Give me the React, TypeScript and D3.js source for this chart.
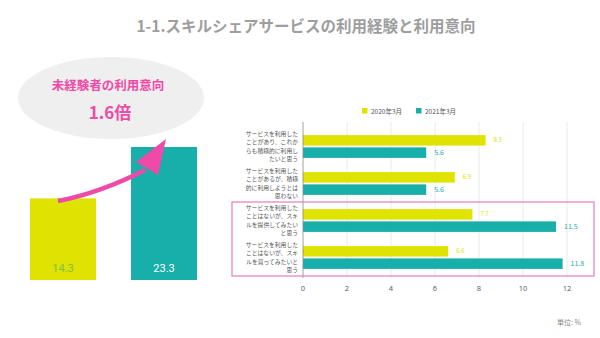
import React from "react";
import * as d3 from "d3";

const categories = [
  ["サービスを利用した", "ことがあり、これか", "らも積極的に利用し", "たいと思う"],
  ["サービスを利用した", "ことがあるが、積極", "的に利用しようとは", "思わない"],
  ["サービスを利用した", "ことはないが、スキ", "ルを提供してみたい", "と思う"],
  ["サービスを利用した", "ことはないが、スキ", "ルを買ってみたいと", "思う"],
];
const values2020 = [8.3, 6.9, 7.7, 6.6];
const values2021 = [5.6, 5.6, 11.5, 11.8];
const seriesNames = ["2020年3月", "2021年3月"];
const xTicks = [0, 2, 4, 6, 8, 10, 12];
const summaryLabels = ["2020", "2021"];
const summaryValues = [14.3, 23.3];

const YELLOW = "#e0e300";
const TEAL = "#18aeaa";
const PINK = "#ee4aa8";
const FONT = "'Noto Sans CJK JP', 'Noto Sans', sans-serif";

export default function App() {
  const x = d3.scaleLinear().domain([0, 12]).range([303, 567]);
  const y = d3
    .scaleBand<number>()
    .domain(d3.range(categories.length))
    .range([128, 276])
    .paddingInner(0)
    .paddingOuter(0);
  const barH = 10.5;
  const gap = 1.8;

  const lx = d3
    .scaleBand<string>()
    .domain(summaryLabels)
    .range([30, 197])
    .paddingInner(0.347)
    .paddingOuter(0);
  const ly = d3.scaleLinear().domain([0, 23.3]).range([280, 147]);

  const arrowPath = d3.path();
  arrowPath.moveTo(58, 201);
  arrowPath.quadraticCurveTo(100, 193, 145, 170);

  const lineStep = 8.5;
  const labelSize = 5.8;

  return (
    <svg
      width={600}
      height={338}
      style={{ position: "absolute", left: 0, top: 0, background: "#fff" }}
      fontFamily={FONT}
    >
      <rect x={0} y={0} width={600} height={338} fill="#ffffff" />
      <text x={306} y={32} textAnchor="middle" fontSize={15.5} fontWeight="bold" fill="#9e9e9e">
        1-1.スキルシェアサービスの利用経験と利用意向
      </text>

      <ellipse cx={111} cy={98} rx={93} ry={41} fill="#efefef" />
      <text x={108} y={90} textAnchor="middle" fontSize={12.5} fontWeight="bold" fill={PINK}>
        未経験者の利用意向
      </text>
      <text x={110} y={119} textAnchor="middle" fontSize={17} fontWeight="bold" fill={PINK}>
        1.6倍
      </text>

      {summaryLabels.map((k, i) => (
        <g key={k}>
          <rect
            x={lx(k)!}
            y={ly(summaryValues[i])}
            width={lx.bandwidth()}
            height={ly(0) - ly(summaryValues[i])}
            fill={i === 0 ? YELLOW : TEAL}
          />
          <text
            x={lx(k)! + lx.bandwidth() / 2}
            y={272}
            textAnchor="middle"
            fontSize={11}
            fontFamily="Roboto, sans-serif"
            fill={i === 0 ? "#7dbf4a" : "#ffffff"}
          >
            {summaryValues[i]}
          </text>
        </g>
      ))}

      <path d={arrowPath.toString()} fill="none" stroke={PINK} strokeWidth={4.5} />
      <polygon points="166,139 136,162 158,175" fill={PINK} />

      <rect x={362} y={108} width={5.5} height={5.5} fill={YELLOW} />
      <text x={371} y={113.5} fontSize={6.5} fill="#555">
        {seriesNames[0]}
      </text>
      <rect x={416} y={108} width={5.5} height={5.5} fill={TEAL} />
      <text x={425} y={113.5} fontSize={6.5} fill="#555">
        {seriesNames[1]}
      </text>

      {xTicks.map((t) => (
        <g key={t}>
          {t !== 0 && (
            <line x1={x(t)} x2={x(t)} y1={122} y2={278} stroke="#e4e4e4" strokeWidth={0.8} />
          )}
          <text x={x(t)} y={291} textAnchor="middle" fontSize={7.5} fill="#555" fontFamily="'Open Sans', sans-serif">
            {t}
          </text>
        </g>
      ))}

      {categories.map((lines, i) => {
        const c = y(i)! + y.bandwidth() / 2;
        const y1 = c - gap / 2 - barH;
        const y2 = c + gap / 2;
        return (
          <g key={i}>
            <rect x={x(0)} y={y1} width={x(values2020[i]) - x(0)} height={barH} fill={YELLOW} />
            <rect x={x(0)} y={y2} width={x(values2021[i]) - x(0)} height={barH} fill={TEAL} />
            <text x={x(values2020[i]) + 8} y={y1 + barH / 2 + 2} fontSize={6} fill={YELLOW}>
              {values2020[i]}
            </text>
            <text x={x(values2021[i]) + 8} y={y2 + barH / 2 + 2.5} fontSize={7} fill={TEAL}>
              {values2021[i]}
            </text>
            {lines.map((ln, j) => (
              <text
                key={j}
                x={298}
                y={c - 1.5 * lineStep + j * lineStep + 2}
                textAnchor="end"
                fontSize={labelSize}
                fill="#555"
              >
                {ln}
              </text>
            ))}
          </g>
        );
      })}

      <line x1={x(0)} x2={x(0)} y1={122} y2={278} stroke="#888" strokeWidth={0.8} />

      <rect x={232} y={202} width={362} height={74} fill="none" stroke="#e27fc0" strokeWidth={1.2} />

      <text x={557} y={325} fontSize={7} fill="#888">
        単位: %
      </text>
    </svg>
  );
}
